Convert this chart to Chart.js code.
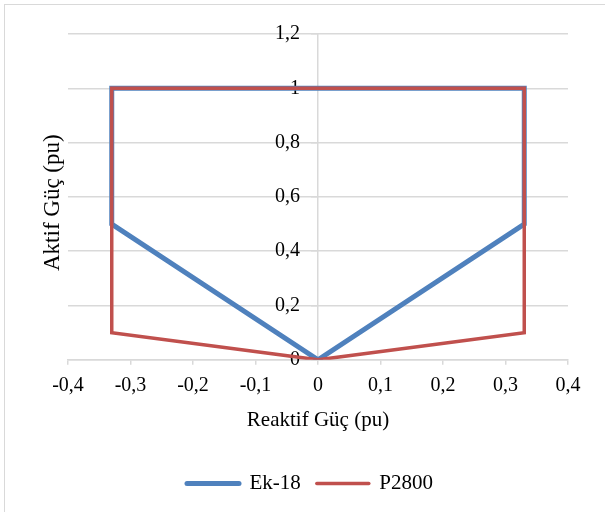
<!DOCTYPE html>
<html>
<head>
<meta charset="utf-8">
<script src="https://cdn.jsdelivr.net/npm/chart.js@4/dist/chart.umd.min.js"></script>
<style>
  html, body { margin: 0; padding: 0; background: #fff; overflow: hidden; }
  #wrap { position: relative; width: 605px; height: 512px; }
  #frame { position: absolute; left: 4px; top: 4px; width: 700px; height: 600px; border: 1px solid #d9d9d9; box-sizing: border-box; }
  canvas { position: absolute; left: 0; top: 0; }
</style>
</head>
<body>
<div id="wrap">
  <div id="frame"></div>
  <canvas id="c" width="605" height="512"></canvas>
</div>
<script>
// Data
const seriesNames = ['Ek-18', 'P2800'];
const ek18X = [0, -0.33, -0.33, 0.33, 0.33, 0];
const ek18Y = [0, 0.5, 1, 1, 0.5, 0];
const p2800X = [0, -0.33, -0.33, 0.33, 0.33, 0];
const p2800Y = [0, 0.1, 1, 1, 0.1, 0];
const xTicks = [-0.4, -0.3, -0.2, -0.1, 0, 0.1, 0.2, 0.3, 0.4];
const yTicks = [0, 0.2, 0.4, 0.6, 0.8, 1, 1.2];
const xTitle = 'Reaktif Güç (pu)';
const yTitle = 'Aktif Güç (pu)';

const toPts = (xs, ys) => xs.map((x, i) => ({ x: x, y: ys[i] }));
const fmt = v => String(Math.round(v * 10) / 10).replace('.', ',');
const FONT = 'Liberation Serif, Times New Roman, serif';
const GRID = '#d9d9d9';

new Chart(document.getElementById('c'), {
  type: 'scatter',
  data: {
    datasets: [
      { label: seriesNames[0], data: toPts(ek18X, ek18Y), showLine: true, borderColor: '#4f81bd', backgroundColor: '#4f81bd',
        borderWidth: 5, pointRadius: 0, pointHoverRadius: 0, fill: false, tension: 0, order: 1, borderJoinStyle: 'miter' },
      { label: seriesNames[1], data: toPts(p2800X, p2800Y), showLine: true, borderColor: '#c0504d', backgroundColor: '#c0504d',
        borderWidth: 3.5, pointRadius: 0, pointHoverRadius: 0, fill: false, tension: 0, order: 0, borderJoinStyle: 'miter' }
    ]
  },
  options: {
    responsive: false,
    animation: false,
    devicePixelRatio: 1,
    layout: { padding: { left: 52, right: 37, top: 34, bottom: 8 } },
    plugins: {
      tooltip: { enabled: false },
      legend: {
        position: 'bottom',
        labels: {
          font: { family: FONT, size: 21 },
          color: '#000',
          usePointStyle: true,
          pointStyleWidth: 52,
          padding: 16,
          generateLabels: (chart) => chart.data.datasets.map((ds, i) => ({
            text: ds.label,
            fillStyle: ds.borderColor,
            strokeStyle: ds.borderColor,
            lineWidth: ds.borderWidth,
            lineCap: 'round',
            pointStyle: 'line',
            hidden: false,
            datasetIndex: i,
            fontColor: '#000'
          }))
        }
      }
    },
    scales: {
      x: {
        type: 'linear',
        min: -0.4, max: 0.4,
        afterBuildTicks: (s) => { s.ticks = xTicks.map(v => ({ value: v })); },
        ticks: { font: { family: FONT, size: 20 }, color: '#000', padding: 9, callback: (v) => fmt(v), maxRotation: 0 },
        grid: { drawOnChartArea: false, drawTicks: true, tickLength: 5, color: GRID, lineWidth: 1.5 },
        border: { display: true, color: GRID, width: 1.5 },
        title: { display: true, text: xTitle, font: { family: FONT, size: 21 }, color: '#000', padding: { top: 1, bottom: 24 } }
      },
      y: {
        type: 'linear',
        position: { x: 0 },
        min: 0, max: 1.2,
        afterBuildTicks: (s) => { s.ticks = yTicks.map(v => ({ value: v })); },
        ticks: { font: { family: FONT, size: 20 }, color: '#000', padding: 10, callback: (v) => fmt(v) + '\u2002\u2009\u2009' },
        grid: { drawOnChartArea: true, drawTicks: true, tickLength: 6, color: GRID, lineWidth: 1.5 },
        border: { display: true, color: GRID, width: 1.5 }
      },
      yt: {
        type: 'linear',
        position: 'left',
        display: true,
        afterFit: (s) => { s.width = 16; },
        ticks: { display: false },
        grid: { display: false },
        border: { display: false },
        title: { display: true, text: yTitle + '\u2002', font: { family: FONT, size: 23 }, color: '#000', padding: { top: -13, bottom: 4 } }
      }
    }
  }
});
</script>
</body>
</html>
